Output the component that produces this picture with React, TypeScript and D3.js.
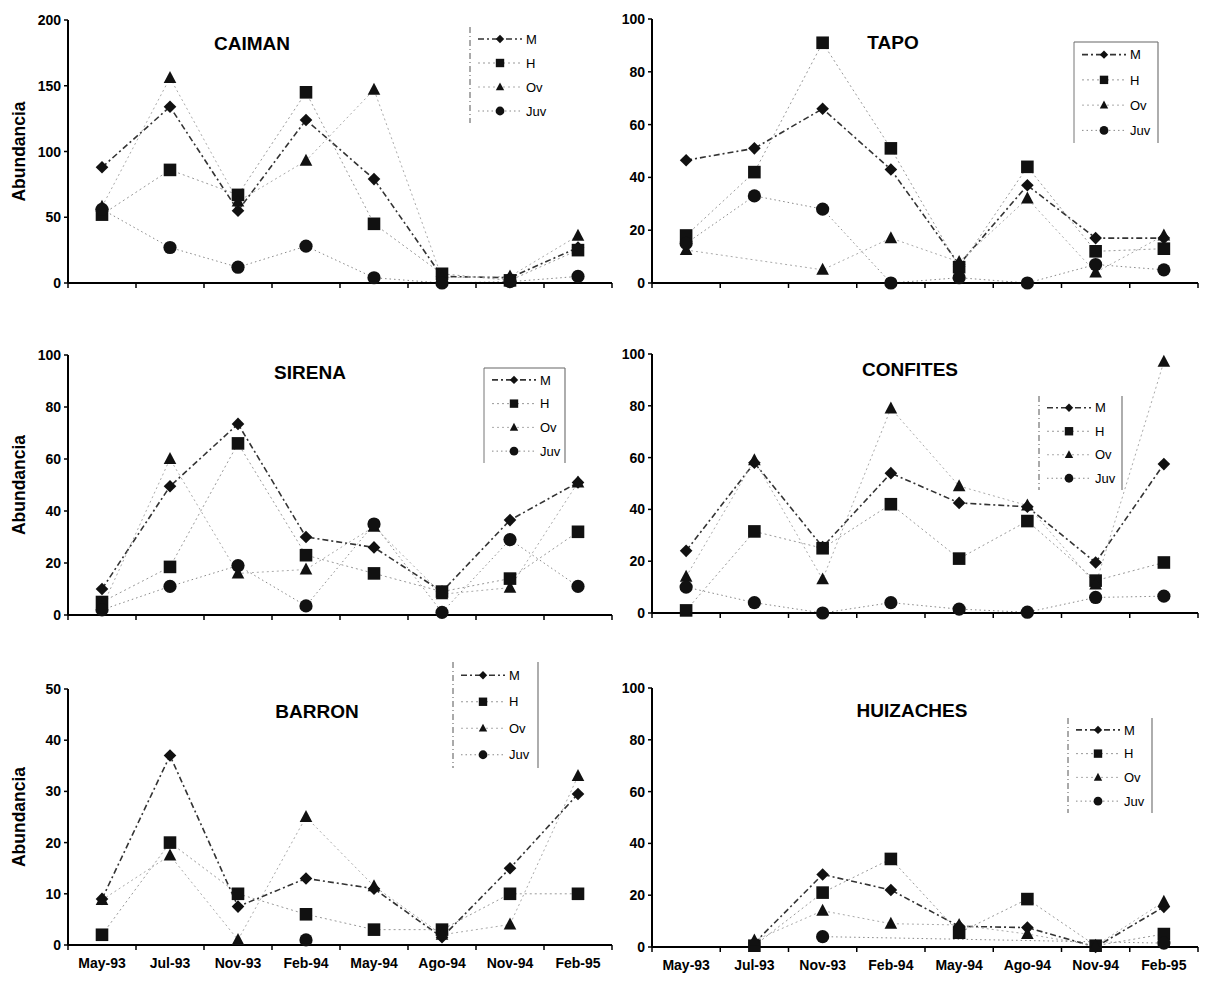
import React from "react";
import * as d3 from "d3";

const categories = ["May-93", "Jul-93", "Nov-93", "Feb-94", "May-94", "Ago-94", "Nov-94", "Feb-95"];
const seriesNames = ["M", "H", "Ov", "Juv"];

type V = number | null;

const caimanM: V[] = [88, 134, 55, 124, 79, 5, 4, 27];
const caimanH: V[] = [52, 86, 67, 145, 45, 7, 2, 25];
const caimanOv: V[] = [58, 156, 62, 93, 147, 4, 5, 36];
const caimanJuv: V[] = [56, 27, 12, 28, 4, 0, 1, 5];

const tapoM: V[] = [46.5, 51, 66, 43, 7, 37, 17, 17];
const tapoH: V[] = [18, 42, 91, 51, 6, 44, 12, 13];
const tapoOv: V[] = [12.5, null, 5, 17, 8, 32, 4, 18];
const tapoJuv: V[] = [15, 33, 28, 0, 2, 0, 7, 5];

const sirenaM: V[] = [10, 49.5, 73.5, 30, 26, 9, 36.5, 51];
const sirenaH: V[] = [5, 18.5, 66, 23, 16, 9, 14, 32];
const sirenaOv: V[] = [3, 60, 16, 17.5, 34, 8, 10.5, 51];
const sirenaJuv: V[] = [2, 11, 19, 3.5, 35, 1, 29, 11];

const confitesM: V[] = [24, 58, 25.5, 54, 42.5, 41, 19.5, 57.5];
const confitesH: V[] = [1, 31.5, 25, 42, 21, 35.5, 12.5, 19.5];
const confitesOv: V[] = [14, 59, 13, 79, 49, 41.5, 11, 97];
const confitesJuv: V[] = [10, 4, 0, 4, 1.5, 0.3, 6, 6.5];

const barronM: V[] = [9, 37, 7.5, 13, 11, 1.5, 15, 29.5];
const barronH: V[] = [2, 20, 10, 6, 3, 3, 10, 10];
const barronOv: V[] = [8.8, 17.5, 1, 25, 11.5, 2, 4, 33];
const barronJuv: V[] = [null, null, null, 1, null, null, null, null];

const huizachesM: V[] = [null, 1.5, 28, 22, 8, 7.5, 0, 15.5];
const huizachesH: V[] = [null, 0.5, 21, 34, 5.5, 18.5, 0.5, 5];
const huizachesOv: V[] = [null, 2.5, 14, 9, 8.5, 5, 0.5, 17.5];
const huizachesJuv: V[] = [null, null, 4, null, null, null, null, 1.5];

const caimanTicks = [0, 50, 100, 150, 200];
const ticks100 = [0, 20, 40, 60, 80, 100];
const barronTicks = [0, 10, 20, 30, 40, 50];

const lineStyles: Record<string, { stroke: string; width: number; dash: string }> = {
  M: { stroke: "#333", width: 1.6, dash: "6,3,2,3" },
  H: { stroke: "#999", width: 1, dash: "2,3" },
  Ov: { stroke: "#aaa", width: 1, dash: "2,3" },
  Juv: { stroke: "#888", width: 1, dash: "1.5,3" },
};

function markerPath(name: string, s: number) {
  if (name === "M") return `M0,${-s}L${s},0L0,${s}L${-s},0Z`;
  if (name === "H") return `M${-s},${-s}H${s}V${s}H${-s}Z`;
  if (name === "Ov") return `M0,${-s * 1.1}L${s},${s * 0.8}L${-s},${s * 0.8}Z`;
  return d3.symbol(d3.symbolCircle, Math.PI * s * s * 1.1)() as string;
}

type Panel = {
  title: string;
  titleDx: number;
  titleY: number;
  x0: number;
  x1: number;
  yTop: number;
  yBottom: number;
  ticks: number[];
  series: V[][];
  legend: { x: number; y: number; w: number; h: number; top: boolean; right: boolean; leftDash: boolean };
  showX: boolean;
  showYLabel: boolean;
};

const panels: Panel[] = [
  {
    title: "CAIMAN", titleDx: 252, titleY: 43, x0: 68, x1: 612, yTop: 20, yBottom: 283,
    ticks: caimanTicks, series: [caimanM, caimanH, caimanOv, caimanJuv],
    legend: { x: 470, y: 27, w: 80, h: 96, top: false, right: false, leftDash: true }, showX: false, showYLabel: true,
  },
  {
    title: "TAPO", titleDx: 893, titleY: 42, x0: 652, x1: 1198, yTop: 19, yBottom: 283,
    ticks: ticks100, series: [tapoM, tapoH, tapoOv, tapoJuv],
    legend: { x: 1074, y: 42, w: 84, h: 101, top: true, right: true, leftDash: false }, showX: false, showYLabel: false,
  },
  {
    title: "SIRENA", titleDx: 310, titleY: 372, x0: 68, x1: 612, yTop: 355, yBottom: 615,
    ticks: ticks100, series: [sirenaM, sirenaH, sirenaOv, sirenaJuv],
    legend: { x: 484, y: 368, w: 81, h: 95, top: true, right: true, leftDash: false }, showX: false, showYLabel: true,
  },
  {
    title: "CONFITES", titleDx: 910, titleY: 369, x0: 652, x1: 1198, yTop: 354, yBottom: 613,
    ticks: ticks100, series: [confitesM, confitesH, confitesOv, confitesJuv],
    legend: { x: 1039, y: 396, w: 83, h: 94, top: false, right: true, leftDash: true }, showX: false, showYLabel: false,
  },
  {
    title: "BARRON", titleDx: 317, titleY: 711, x0: 68, x1: 612, yTop: 689, yBottom: 945,
    ticks: barronTicks, series: [barronM, barronH, barronOv, barronJuv],
    legend: { x: 453, y: 662, w: 85, h: 106, top: false, right: true, leftDash: true }, showX: true, showYLabel: true,
  },
  {
    title: "HUIZACHES", titleDx: 912, titleY: 710, x0: 652, x1: 1198, yTop: 688, yBottom: 947,
    ticks: ticks100, series: [huizachesM, huizachesH, huizachesOv, huizachesJuv],
    legend: { x: 1068, y: 718, w: 84, h: 95, top: false, right: true, leftDash: true }, showX: true, showYLabel: false,
  },
];

const font = "'Liberation Sans', Arial, sans-serif";

function PanelView({ p }: { p: Panel }) {
  const x = d3.scaleBand<string>().domain(categories).range([p.x0, p.x1]);
  const yMax = p.ticks[p.ticks.length - 1];
  const y = d3.scaleLinear().domain([0, yMax]).range([p.yBottom, p.yTop]);
  const cx = (c: string) => (x(c) as number) + x.bandwidth() / 2;
  const line = d3
    .line<{ c: string; v: number }>()
    .x((d) => cx(d.c))
    .y((d) => y(d.v));
  const edges = categories.map((c) => x(c) as number).concat([p.x1]);
  const lg = p.legend;
  const rowH = lg.h / 4;
  return (
    <g>
      {p.series.map((vals, si) => {
        const name = seriesNames[si];
        const st = lineStyles[name];
        const pts = categories
          .map((c, i) => ({ c, v: vals[i] }))
          .filter((d) => d.v !== null) as { c: string; v: number }[];
        return (
          <path
            key={"l" + si}
            d={line(pts) || ""}
            fill="none"
            stroke={st.stroke}
            strokeWidth={st.width}
            strokeDasharray={st.dash}
          />
        );
      })}
      <line x1={p.x0} x2={p.x0} y1={p.yTop} y2={p.yBottom} stroke="#000" strokeWidth={2} />
      <line x1={p.x0} x2={p.x1} y1={p.yBottom} y2={p.yBottom} stroke="#000" strokeWidth={2} />
      {edges.map((e, i) => (
        <line key={"xt" + i} x1={e} x2={e} y1={p.yBottom} y2={p.yBottom + 5} stroke="#000" strokeWidth={1.5} />
      ))}
      {p.ticks.map((t) => (
        <g key={"yt" + t}>
          <line x1={p.x0 - 4} x2={p.x0} y1={y(t)} y2={y(t)} stroke="#000" strokeWidth={1.5} />
          <text
            x={p.x0 - 7}
            y={y(t)}
            dy="0.36em"
            textAnchor="end"
            fontFamily={font}
            fontWeight="bold"
            fontSize={14}
          >
            {t}
          </text>
        </g>
      ))}
      {p.showX &&
        categories.map((c) => (
          <text
            key={"xl" + c}
            x={cx(c)}
            y={p.yBottom + 23}
            textAnchor="middle"
            fontFamily={font}
            fontWeight="bold"
            fontSize={14}
          >
            {c}
          </text>
        ))}
      {p.showYLabel && (
        <text
          transform={`translate(25,${(p.yTop + p.yBottom) / 2}) rotate(-90)`}
          textAnchor="middle"
          fontFamily={font}
          fontWeight="bold"
          fontSize={17.5}
        >
          Abundancia
        </text>
      )}
      {p.series.map((vals, si) => {
        const name = seriesNames[si];
        return categories.map((c, i) =>
          vals[i] === null ? null : (
            <path
              key={"m" + si + "-" + i}
              d={markerPath(name, 6.3)}
              transform={`translate(${cx(c)},${y(vals[i] as number)})`}
              fill="#111"
            />
          )
        );
      })}
      <text
        x={p.titleDx}
        y={p.titleY}
        dy="0.36em"
        textAnchor="middle"
        fontFamily={font}
        fontWeight="bold"
        fontSize={19}
      >
        {p.title}
      </text>
      <g>
        <rect x={lg.x} y={lg.y} width={lg.w} height={lg.h} fill="#fff" fillOpacity={0.6} stroke="none" />
        <line
          x1={lg.x}
          x2={lg.x}
          y1={lg.y}
          y2={lg.y + lg.h}
          stroke={lg.leftDash ? "#555" : "#777"}
          strokeWidth={1}
          strokeDasharray={lg.leftDash ? "6,3,1,3" : undefined}
        />
        {lg.top && <line x1={lg.x} x2={lg.x + lg.w} y1={lg.y} y2={lg.y} stroke="#666" strokeWidth={1.2} />}
        {lg.right && (
          <line x1={lg.x + lg.w} x2={lg.x + lg.w} y1={lg.y} y2={lg.y + lg.h} stroke="#777" strokeWidth={1.2} />
        )}
        {seriesNames.map((name, i) => {
          const ry = lg.y + rowH * (i + 0.5);
          const st = lineStyles[name];
          return (
            <g key={"lg" + name}>
              <line
                x1={lg.x + 8}
                x2={lg.x + 52}
                y1={ry}
                y2={ry}
                stroke={st.stroke}
                strokeWidth={st.width}
                strokeDasharray={st.dash}
              />
              <path d={markerPath(name, 4.2)} transform={`translate(${lg.x + 30},${ry})`} fill="#111" />
              <text x={lg.x + 56} y={ry} dy="0.36em" fontFamily={font} fontSize={13}>
                {name}
              </text>
            </g>
          );
        })}
      </g>
    </g>
  );
}

export default function App() {
  return (
    <svg
      width={1206}
      height={982}
      viewBox="0 0 1206 982"
      style={{ position: "absolute", left: 0, top: 0, background: "#fff" }}
    >
      <rect x={0} y={0} width={1206} height={982} fill="#fff" />
      {panels.map((p) => (
        <PanelView key={p.title} p={p} />
      ))}
    </svg>
  );
}
